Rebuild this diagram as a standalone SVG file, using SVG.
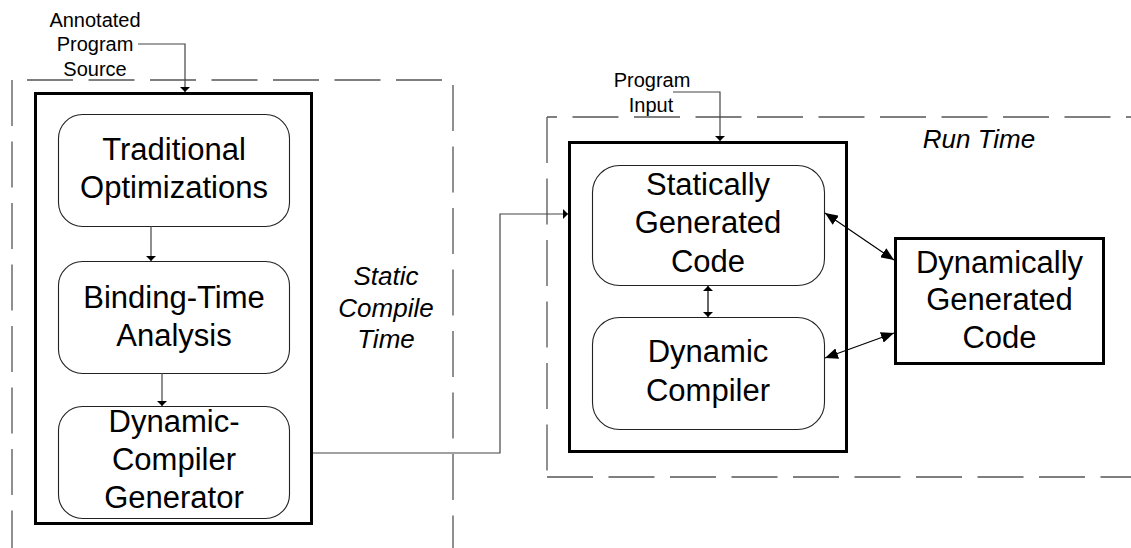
<svg xmlns="http://www.w3.org/2000/svg" width="1131" height="548" viewBox="0 0 1131 548">
<style>
text{font-family:"Liberation Sans",Arial,sans-serif;fill:#000;text-anchor:middle}
.big{font-size:31px}
.small{font-size:20px}
.it{font-size:26px;font-style:italic}
.dash{stroke:#555;stroke-width:1.3;fill:none;stroke-dasharray:46 15.5}
.outer{fill:none;stroke:#000;stroke-width:3}
.rr{fill:#fff;stroke:#222;stroke-width:1.1}
.conn{fill:none;stroke:#444;stroke-width:1.2}
.dbl{fill:none;stroke:#000;stroke-width:1.2}
</style>
<defs>
<marker id="sm" viewBox="0 0 5 10" markerWidth="5" markerHeight="10" refX="5" refY="5" orient="auto-start-reverse" markerUnits="userSpaceOnUse"><path d="M0,0 L5,5 L0,10 z" fill="#000"/></marker>
<marker id="lg" viewBox="0 0 13 11" markerWidth="13" markerHeight="11" refX="13" refY="5.5" orient="auto-start-reverse" markerUnits="userSpaceOnUse"><path d="M0,0 L13,5.5 L0,11 z" fill="#000"/></marker>
</defs>

<g id="regions">
<line class="dash" x1="12" y1="80" x2="12" y2="548"/>
<line class="dash" x1="27" y1="80" x2="443" y2="80"/>
<line class="dash" x1="453" y1="85" x2="453" y2="548"/>
<line class="dash" x1="547" y1="117" x2="1131" y2="117" stroke-dashoffset="36"/>
<line class="dash" x1="547" y1="117" x2="547" y2="477"/>
<line class="dash" x1="547" y1="477" x2="1131" y2="477"/>
<text class="it" x="386" y="285">Static</text>
<text class="it" x="386" y="317">Compile</text>
<text class="it" x="386" y="348">Time</text>
<text class="it" x="979" y="148">Run Time</text>
</g>

<g id="annotated-source">
<text class="small" x="95" y="27">Annotated</text>
<text class="small" x="95" y="51">Program</text>
<text class="small" x="95" y="76">Source</text>
</g>
<g id="program-input">
<text class="small" x="652" y="87">Program</text>
<text class="small" x="651" y="112">Input</text>
</g>

<g id="static-compiler">
<rect class="outer" x="35.5" y="93.5" width="276" height="430"/>
</g>
<g id="traditional-optimizations">
<rect class="rr" x="58.5" y="114.5" width="231" height="112" rx="24"/>
<text class="big" x="174" y="160">Traditional</text>
<text class="big" x="174" y="198">Optimizations</text>
</g>
<g id="binding-time-analysis">
<rect class="rr" x="58.5" y="261.5" width="231" height="112" rx="24"/>
<text class="big" x="174" y="308">Binding-Time</text>
<text class="big" x="174" y="346">Analysis</text>
</g>
<g id="dynamic-compiler-generator">
<rect class="rr" x="58.5" y="406.5" width="231" height="112" rx="24"/>
<text class="big" x="174" y="432">Dynamic-</text>
<text class="big" x="174" y="470">Compiler</text>
<text class="big" x="174" y="508">Generator</text>
</g>

<g id="runtime-program">
<rect class="outer" x="569.5" y="142.5" width="277" height="309"/>
</g>
<g id="statically-generated-code">
<rect class="rr" x="592.5" y="165.5" width="232" height="120" rx="27"/>
<text class="big" x="708" y="195">Statically</text>
<text class="big" x="708" y="233">Generated</text>
<text class="big" x="708" y="272">Code</text>
</g>
<g id="dynamic-compiler">
<rect class="rr" x="592.5" y="317.5" width="232" height="112" rx="27"/>
<text class="big" x="708" y="362">Dynamic</text>
<text class="big" x="708" y="401">Compiler</text>
</g>
<g id="dynamically-generated-code">
<rect class="outer" x="895.5" y="238.5" width="208" height="125"/>
<text class="big" x="999.5" y="273">Dynamically</text>
<text class="big" x="999.5" y="310">Generated</text>
<text class="big" x="999.5" y="348">Code</text>
</g>

<g id="connectors">
<polyline class="conn" points="138,44 185,44 185,92" marker-end="url(#sm)"/>
<polyline class="conn" points="673,92 720,92 720,141" marker-end="url(#sm)"/>
<line class="conn" x1="151" y1="226" x2="151" y2="261" marker-end="url(#sm)"/>
<line class="conn" x1="162" y1="373" x2="162" y2="406" marker-end="url(#sm)"/>
<polyline class="conn" points="313,453 500,453 500,214 568,214" marker-end="url(#sm)"/>
<line class="dbl" x1="708" y1="286" x2="708" y2="317" marker-start="url(#sm)" marker-end="url(#sm)"/>
<line class="dbl" x1="825" y1="213" x2="894" y2="260" marker-start="url(#lg)" marker-end="url(#lg)"/>
<line class="dbl" x1="825" y1="358" x2="894" y2="333" marker-start="url(#lg)" marker-end="url(#lg)"/>
</g>
</svg>
